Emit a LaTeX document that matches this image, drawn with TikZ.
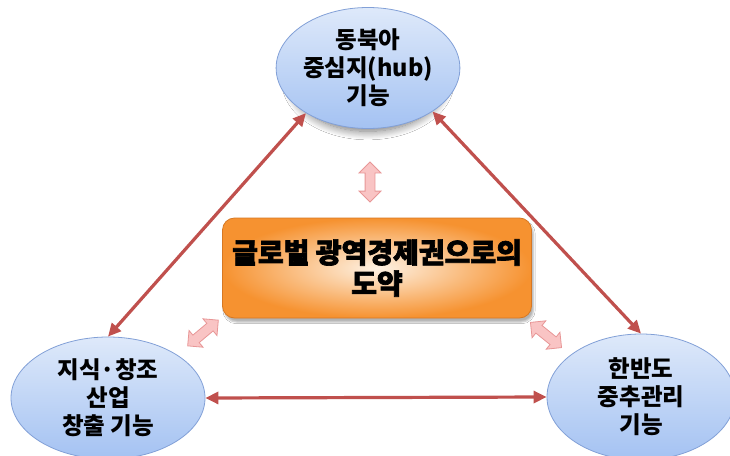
\documentclass[tikz,border=0pt]{standalone}
\usepackage{fontspec}
\newfontfamily\kr{Noto Sans CJK KR}
\newfontfamily\krheavy{Noto Sans CJK KR}[BoldFeatures={FakeBold=2.5}]
\usetikzlibrary{shapes.geometric,shapes.arrows,arrows.meta,shadows.blur}
\definecolor{ellTop}{RGB}{222,233,250}
\definecolor{ellBot}{RGB}{164,194,242}
\definecolor{ellLine}{RGB}{130,160,215}
\definecolor{orOut}{RGB}{246,146,48}
\definecolor{orIn}{RGB}{254,242,228}
\definecolor{orLine}{RGB}{215,120,35}
\definecolor{redArr}{RGB}{192,80,77}
\definecolor{pinkFill}{RGB}{249,196,196}
\definecolor{pinkLine}{RGB}{232,150,150}
\tikzset{
  hub/.style={ellipse, draw=ellLine, line width=0.8pt, top color=ellTop, bottom color=ellBot,
    inner sep=0pt, align=center, font=\kr\bfseries\fontsize{23.5}{28}\selectfont},
  centerbox/.style={rectangle, rounded corners=12pt, draw=orLine, line width=0.8pt,
    inner color=orIn, outer color=orOut, minimum width=309pt, minimum height=100pt,
    align=center, font=\krheavy\bfseries\fontsize{28}{31}\selectfont,
    blur shadow={shadow xshift=2pt, shadow yshift=-4pt, shadow opacity=30}},
  redarrow/.style={draw=redArr, line width=3.2pt,
    {Triangle[length=13pt,width=12pt]}-{Triangle[length=13pt,width=12pt]}},
  pinkarrow/.style={double arrow, draw=pinkLine, fill=pinkFill, line width=0.8pt,
    inner sep=4.5pt, minimum height=40pt, double arrow head extend=6pt,
    double arrow head indent=0pt}
}
\begin{document}
\begin{tikzpicture}[x=1pt,y=-1pt]
\useasboundingbox (0,0) rectangle (730,455);
\clip (0,0) rectangle (730,455);
\fill[white] (0,0) rectangle (730,455);
\node[hub, minimum width=182pt, minimum height=121pt,
  blur shadow={shadow xshift=0pt, shadow yshift=-14pt, shadow opacity=55, shadow scale=0.85, shadow blur radius=10pt, shadow blur steps=12}]
  (top) at (368,68) {동북아\\중심지(hub)\\기능};
\node[hub, minimum width=194pt, minimum height=122pt] (left) at (108,398) {지식·창조\\산업\\창출 기능};
\node[hub, minimum width=188pt, minimum height=126pt] (right) at (641,397) {한반도\\중추관리\\기능};
\node[centerbox] (center) at (377,268) {글로벌 광역경제권으로의\\도약};
\draw[redarrow] (top.216) -- (left.north);
\draw[redarrow] (top.-34) -- (right.north);
\draw[redarrow] (left.east) -- (right.west);
\node[pinkarrow, rotate=90] (pv) at (370,182) {};
\node[pinkarrow, rotate=40] (pl) at (203,333) {};
\node[pinkarrow, rotate=-39] (pr) at (546,335) {};
\end{tikzpicture}
\end{document}
